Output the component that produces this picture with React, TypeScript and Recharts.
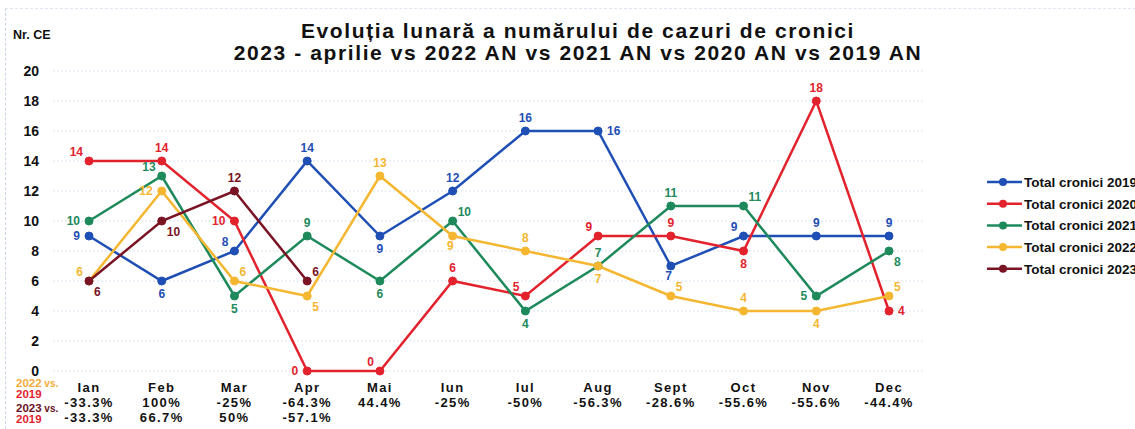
import { LineChart, Line, XAxis, YAxis, CartesianGrid, LabelList } from 'recharts';

const months = ['Ian', 'Feb', 'Mar', 'Apr', 'Mai', 'Iun', 'Iul', 'Aug', 'Sept', 'Oct', 'Nov', 'Dec'];
const total2019 = [9, 6, 8, 14, 9, 12, 16, 16, 7, 9, 9, 9];
const total2020 = [14, 14, 10, 0, 0, 6, 5, 9, 9, 8, 18, 4];
const total2021 = [10, 13, 5, 9, 6, 10, 4, 7, 11, 11, 5, 8];
const total2022 = [6, 12, 6, 5, 13, 9, 8, 7, 5, 4, 4, 5];
const total2023 = [6, 10, 12, 6, null, null, null, null, null, null, null, null];
const diff2022vs2019 = ['-33.3%', '100%', '-25%', '-64.3%', '44.4%', '-25%', '-50%', '-56.3%', '-28.6%', '-55.6%', '-55.6%', '-44.4%'];
const diff2023vs2019 = ['-33.3%', '66.7%', '50%', '-57.1%', '', '', '', '', '', '', '', ''];
const yTicks = [0, 2, 4, 6, 8, 10, 12, 14, 16, 18, 20];

// where each value label sits relative to its point
const labelPos: Record<string, string[]> = {
  y2019: ['l', 'b', 'tl', 't', 'b', 't', 't', 'r', 'bl', 'tl', 't', 't'],
  y2020: ['tl', 't', 'l', 'l', 'tl', 't', 'tl', 'tl', 't', 'b', 't', 'r'],
  y2021: ['l', 'tl', 'b', 't', 'b', 'tr', 'b', 't', 't', 'tr', 'l', 'br'],
  y2022: ['tl', 'l', 'tr', 'br', 't', 'bl', 't', 'b', 'tr', 't', 'b', 'tr'],
  y2023: ['br', 'br', 't', 'tr'],
};

const series = [
  { key: 'y2019', name: 'Total cronici 2019', color: '#1f4fb5' },
  { key: 'y2020', name: 'Total cronici 2020', color: '#e2232d' },
  { key: 'y2021', name: 'Total cronici 2021', color: '#1e8a5c' },
  { key: 'y2022', name: 'Total cronici 2022', color: '#f5b731' },
  { key: 'y2023', name: 'Total cronici 2023', color: '#7a1424' },
];

const data = months.map((m, i) => ({
  month: m,
  y2019: total2019[i],
  y2020: total2020[i],
  y2021: total2021[i],
  y2022: total2022[i],
  y2023: total2023[i],
  d22: diff2022vs2019[i],
  d23: diff2023vs2019[i],
}));

const FONT = 'Arial, "Liberation Sans", sans-serif';

const makeLabel = (key: string, color: string) => (props: any) => {
  const { x, y, value, index } = props;
  if (value === null || value === undefined) return null;
  const pos = labelPos[key][index] || 't';
  let dx = 0;
  let dy = -9;
  let anchor = 'middle';
  if (pos === 'b') dy = 17;
  if (pos === 'l') { dx = -9; dy = 4; anchor = 'end'; }
  if (pos === 'r') { dx = 9; dy = 4; anchor = 'start'; }
  if (pos === 'tl') { dx = -6; dy = -5; anchor = 'end'; }
  if (pos === 'tr') { dx = 5; dy = -5; anchor = 'start'; }
  if (pos === 'bl') { dx = 1; dy = 14; anchor = 'end'; }
  if (pos === 'br') { dx = 5; dy = 15; anchor = 'start'; }
  return (
    <text x={x + dx} y={y + dy} textAnchor={anchor} fill={color} fontSize={12} fontWeight={700} fontFamily={FONT}>
      {value}
    </text>
  );
};

const MonthTick = (props: any) => {
  const { x, y, payload, index } = props;
  const row = data[index] || data.find((d) => d.month === payload.value);
  return (
    <g fontFamily={FONT} fontWeight={700} fontSize={13} fill="#111" letterSpacing={1.4}>
      <text x={x} y={y + 21} textAnchor="middle" fill="#111">{payload.value}</text>
      <text x={x} y={y + 36} textAnchor="middle" fill="#111">{row ? row.d22 : ''}</text>
      <text x={x} y={y + 51} textAnchor="middle" fill="#111">{row ? row.d23 : ''}</text>
    </g>
  );
};

export default function App() {
  return (
    <div style={{ position: 'absolute', left: 0, top: 0, width: 1135, height: 429, background: '#fff', overflow: 'hidden' }}>
      <div style={{ position: 'absolute', left: 5, top: 8, width: 1200, height: 440, borderLeft: '1px dashed #c9d4ea', borderTop: '1px dashed #dfe5f0' }} />
      <LineChart width={1135} height={429} data={data} margin={{ top: 71, right: 210, bottom: 0, left: 0 }}>
        <CartesianGrid vertical={false} stroke="#d9e1ef" strokeDasharray="2 2" />
        <XAxis
          dataKey="month"
          axisLine={false}
          tickLine={false}
          tickSize={0}
          tickMargin={0}
          interval={0}
          height={58}
          padding={{ left: 36, right: 36 }}
          tick={<MonthTick />}
        />
        <YAxis
          domain={[0, 20]}
          ticks={yTicks}
          axisLine={false}
          tickLine={false}
          tickSize={0}
          tickMargin={14}
          width={53}
          interval={0}
          tick={{ fill: '#111', fontSize: 14, fontWeight: 700, fontFamily: FONT }}
        />
        {series.map((s) => (
          <Line
            key={s.key}
            type="linear"
            dataKey={s.key}
            name={s.name}
            stroke={s.color}
            strokeWidth={2.5}
            dot={{ r: 4, fill: s.color, stroke: s.color, strokeWidth: 1 }}
            isAnimationActive={false}
            connectNulls={false}
          >
            <LabelList dataKey={s.key} content={makeLabel(s.key, s.color)} />
          </Line>
        ))}
      </LineChart>
      <svg width={1135} height={429} style={{ position: 'absolute', left: 0, top: 0, pointerEvents: 'none' }} fontFamily={FONT} fontWeight={700}>
        <text x={578} y={38} textAnchor="middle" fontSize={21} letterSpacing={1.6} fill="#111">
          Evoluția lunară a numărului de cazuri de cronici
        </text>
        <text x={578} y={60} textAnchor="middle" fontSize={21} letterSpacing={1.6} fill="#111">
          2023 - aprilie vs 2022 AN vs 2021 AN vs 2020 AN vs 2019 AN
        </text>
        <text x={13} y={39} fontSize={12.5} fill="#111">Nr. CE</text>
        <text x={16} y={387} fontSize={11.5}>
          <tspan fill="#f2ac3a">2022</tspan>
          <tspan fill="#f2ac3a" fontSize={10}> vs.</tspan>
        </text>
        <text x={16} y={398} fontSize={11.5} fill="#e2232d">2019</text>
        <text x={16} y={412} fontSize={11.5}>
          <tspan fill="#6a1222">2023</tspan>
          <tspan fill="#6a1222" fontSize={10}> vs.</tspan>
        </text>
        <text x={16} y={423} fontSize={11.5} fill="#e2232d">2019</text>
        {series.map((s, i) => (
          <g key={s.key}>
            <line x1={987} x2={1022} y1={182 + i * 21.7} y2={182 + i * 21.7} stroke={s.color} strokeWidth={2.5} />
            <circle cx={1003} cy={182 + i * 21.7} r={4} fill={s.color} />
            <text x={1024} y={187 + i * 21.7} fontSize={13.5} fill="#111">{s.name}</text>
          </g>
        ))}
      </svg>
    </div>
  );
}
